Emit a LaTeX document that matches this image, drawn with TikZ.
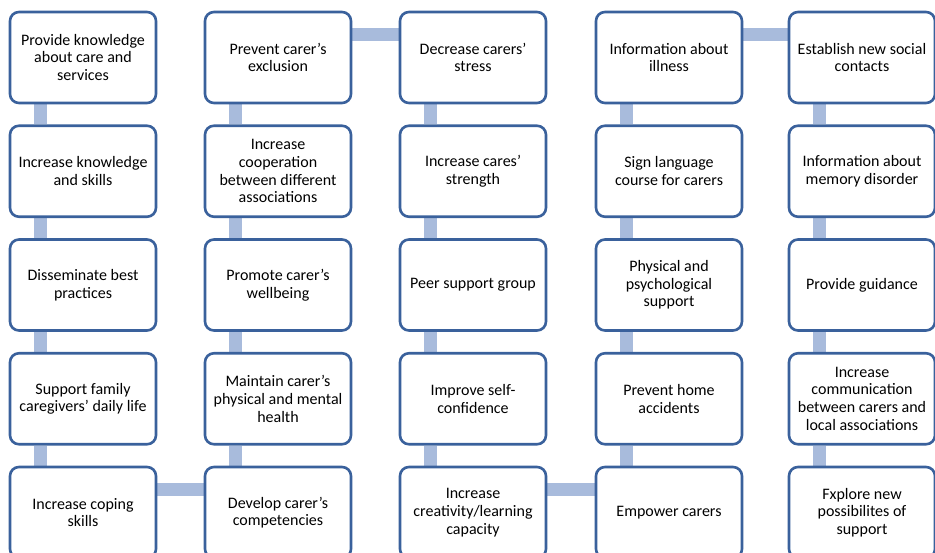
\documentclass[tikz,border=0pt]{standalone}
\usepackage{fontspec}
\setmainfont{Carlito}
\usetikzlibrary{backgrounds}
\definecolor{boxline}{HTML}{3A619C}
\definecolor{connblue}{HTML}{A8BBDC}
\tikzset{
  stepbox/.style={draw=boxline, line width=2.6pt, fill=white, rounded corners=9pt,
    minimum width=146pt, minimum height=91pt, inner sep=1pt, align=center,
    font=\fontsize{16pt}{17.7pt}\selectfont, text=black},
  conn/.style={draw=connblue, line width=13pt}
}
\begin{document}
\begin{tikzpicture}[x=1pt,y=1pt]
\useasboundingbox (0,0) rectangle (935,-553);
% row 1
\node[stepbox] (n11) at (83,-57.5) {Provide knowledge\\about care and\\services};
\node[stepbox] (n12) at (278,-57.5) {Prevent carer’s\\exclusion};
\node[stepbox] (n13) at (473,-57.5) {Decrease carers’\\stress};
\node[stepbox] (n14) at (669,-57.5) {Information about\\illness};
\node[stepbox] (n15) at (862,-57.5) {Establish new social\\contacts};
% row 2
\node[stepbox] (n21) at (83,-171.25) {Increase knowledge\\and skills};
\node[stepbox] (n22) at (278,-171.25) {Increase\\cooperation\\between different\\associations};
\node[stepbox] (n23) at (473,-171.25) {Increase cares’\\strength};
\node[stepbox] (n24) at (669,-171.25) {Sign language\\course for carers};
\node[stepbox] (n25) at (862,-171.25) {Information about\\memory disorder};
% row 3
\node[stepbox] (n31) at (83,-285) {Disseminate best\\practices};
\node[stepbox] (n32) at (278,-285) {Promote carer’s\\wellbeing};
\node[stepbox] (n33) at (473,-285) {Peer support group};
\node[stepbox] (n34) at (669,-285) {Physical and\\psychological\\support};
\node[stepbox] (n35) at (862,-285) {Provide guidance};
% row 4
\node[stepbox] (n41) at (83,-398.75) {Support family\\caregivers’ daily life};
\node[stepbox] (n42) at (278,-398.75) {Maintain carer’s\\physical and mental\\health};
\node[stepbox] (n43) at (473,-398.75) {Improve self-\\confidence};
\node[stepbox] (n44) at (669,-398.75) {Prevent home\\accidents};
\node[stepbox] (n45) at (862,-398.75) {Increase\\communication\\between carers and\\local associations};
% row 5
\node[stepbox] (n51) at (83,-512.5) {Increase coping\\skills};
\node[stepbox] (n52) at (278,-512.5) {Develop carer’s\\competencies};
\node[stepbox] (n53) at (473,-512.5) {Increase\\creativity/learning\\capacity};
\node[stepbox] (n54) at (669,-512.5) {Empower carers};
\node[stepbox] (n55) at (862,-512.5) {Fxplore new\\possibilites of\\support};
\begin{scope}[on background layer]
\fill[white] (0,0) rectangle (935,-553);
\foreach \c in {1,...,5}{
  \foreach \r/\s in {1/2,2/3,3/4,4/5}{
    \draw[conn] ([xshift=-43pt]n\r\c.south) -- ([xshift=-43pt]n\s\c.north);
  }
}
\draw[conn] ([yshift=23pt]n51.east) -- ([yshift=23pt]n52.west);
\draw[conn] ([yshift=23pt]n12.east) -- ([yshift=23pt]n13.west);
\draw[conn] ([yshift=23pt]n53.east) -- ([yshift=23pt]n54.west);
\draw[conn] ([yshift=23pt]n14.east) -- ([yshift=23pt]n15.west);
\end{scope}
\end{tikzpicture}
\end{document}
